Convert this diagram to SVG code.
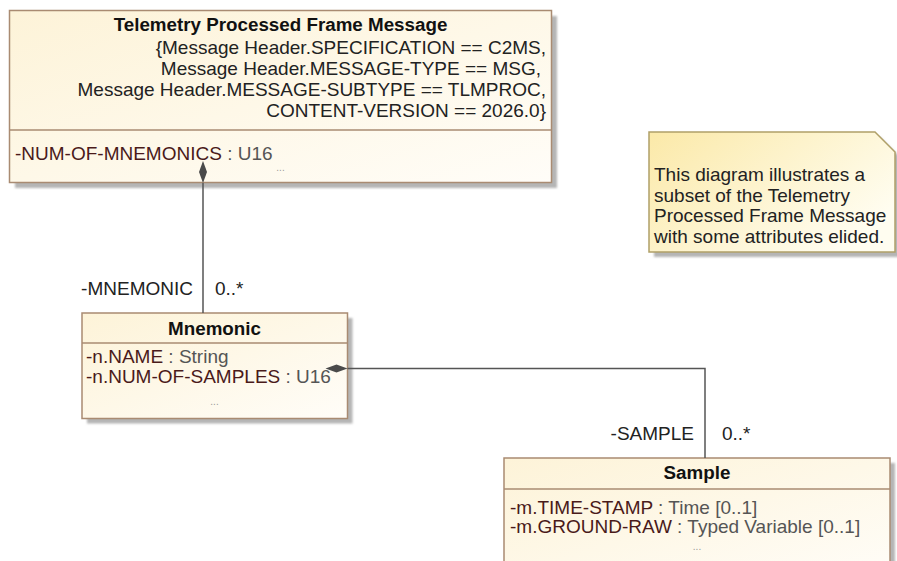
<svg xmlns="http://www.w3.org/2000/svg" width="897" height="561" viewBox="0 0 897 561">
<defs>
<linearGradient id="cls" x1="0" y1="0" x2="1" y2="1">
<stop offset="0" stop-color="#FDF3D8"/>
<stop offset="1" stop-color="#FFFDF8"/>
</linearGradient>
<linearGradient id="note" x1="0" y1="0" x2="1" y2="0.6">
<stop offset="0" stop-color="#FBE9A8"/>
<stop offset="1" stop-color="#FFFDF0"/>
</linearGradient>
<filter id="blur" x="-5%" y="-5%" width="110%" height="110%">
<feGaussianBlur stdDeviation="1.2"/>
</filter>
<marker id="diamond" markerUnits="userSpaceOnUse" markerWidth="24" markerHeight="10" refX="0" refY="5" orient="auto-start-reverse" viewBox="0 0 24 10">
<path d="M0,5 L11,1 L22,5 L11,9 Z" fill="#4a4a4a"/>
</marker>
</defs>
<style>
.box{fill:url(#cls);stroke:#A98B72;stroke-width:1.5}
.div{stroke:#A98B72;stroke-width:1.5}
.shadow{fill:#B5B5B5;filter:url(#blur)}
text{font-family:"Liberation Sans",Arial,sans-serif;font-size:19px;fill:#222}
.title{font-weight:bold;text-anchor:middle;fill:#111;font-size:18.8px}
.cons{text-anchor:end;fill:#222}
.an{fill:#4A1A1A}
.ty{fill:#555}
.ell{font-size:10px;fill:#9a9a9a;text-anchor:middle}
.conn{fill:none;stroke:#555;stroke-width:1.5}
.lbl{fill:#222}
</style>

<g id="node-tpfm">
<rect class="shadow" x="15" y="16" width="542" height="172"/>
<rect class="box" x="9.5" y="10.5" width="542" height="172"/>
<line class="div" x1="9.5" y1="130" x2="551.5" y2="130"/>
<text class="title" x="280.5" y="31">Telemetry Processed Frame Message</text>
<text class="cons" x="546" y="53.5">{Message Header.SPECIFICATION == C2MS,</text>
<text class="cons" x="541" y="74.5">Message Header.MESSAGE-TYPE == MSG,</text>
<text class="cons" x="546" y="95.5">Message Header.MESSAGE-SUBTYPE == TLMPROC,</text>
<text class="cons" x="546" y="116.5">CONTENT-VERSION == 2026.0}</text>
<text x="15" y="159.5"><tspan class="an">-NUM-OF-MNEMONICS</tspan><tspan class="ty"> : U16</tspan></text>
<text class="ell" x="280.5" y="171">...</text>
</g>

<g id="node-mnemonic">
<rect class="shadow" x="87" y="318" width="265.5" height="105.5"/>
<rect class="box" x="82" y="313" width="265.5" height="105.5"/>
<line class="div" x1="82" y1="343" x2="347.5" y2="343"/>
<text class="title" x="214.5" y="335">Mnemonic</text>
<text x="86" y="362.5"><tspan class="an">-n.NAME</tspan><tspan class="ty"> : String</tspan></text>
<text x="86" y="382.5"><tspan class="an">-n.NUM-OF-SAMPLES</tspan><tspan class="ty"> : U16</tspan></text>
<text class="ell" x="214.5" y="405">...</text>
</g>

<g id="node-sample">
<rect class="shadow" x="509" y="463" width="386" height="120"/>
<rect class="box" x="504" y="458" width="386" height="120"/>
<line class="div" x1="504" y1="489" x2="890" y2="489"/>
<text class="title" x="697" y="479">Sample</text>
<text x="510" y="513.5"><tspan class="an">-m.TIME-STAMP</tspan><tspan class="ty"> : Time [0..1]</tspan></text>
<text x="510" y="533"><tspan class="an">-m.GROUND-RAW</tspan><tspan class="ty"> : Typed Variable [0..1]</tspan></text>
<text class="ell" x="697" y="550">...</text>
</g>

<g id="node-note">
<path d="M654,137 L880,137 L900,157 L900,257 L654,257 Z" fill="#B5B5B5" filter="url(#blur)"/>
<path d="M649,132 L875,132 L895,152 L895,252 L649,252 Z" fill="url(#note)" stroke="#B0A068" stroke-width="1.5"/>
<text x="654" y="181">This diagram illustrates a</text>
<text x="654" y="201.5">subset of the Telemetry</text>
<text x="654" y="222">Processed Frame Message</text>
<text x="654" y="242.5">with some attributes elided.</text>
</g>

<g id="connectors">
<path class="conn" d="M203,183 L203,313" marker-start="url(#diamond)"/>
<text class="lbl" x="193" y="294.5" text-anchor="end">-MNEMONIC</text>
<text class="lbl" x="215" y="294.5">0..*</text>
<path class="conn" d="M347.5,368.5 L705,368.5 L705,458" marker-start="url(#diamond)"/>
<text class="lbl" x="694" y="440" text-anchor="end">-SAMPLE</text>
<text class="lbl" x="722" y="440">0..*</text>
</g>
</svg>
